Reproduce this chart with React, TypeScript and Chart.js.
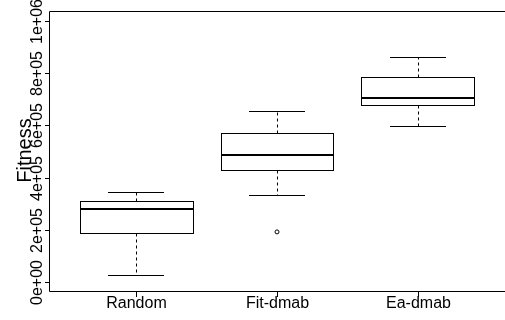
import React, { useEffect, useRef } from "react";
import { Chart, registerables } from "chart.js";

Chart.register(...registerables);

const categories = ["Random", "Fit-dmab", "Ea-dmab"];
const whiskerLow = [24000, 333000, 598000];
const quartile1 = [188000, 427500, 677500];
const medians = [279500, 485000, 705500];
const quartile3 = [309000, 570000, 786000];
const whiskerHigh = [346000, 655500, 862000];
const outlierGroup = [2];
const outlierValue = [191000];
const yTickValues = [0, 200000, 400000, 600000, 800000, 1000000];
const yTickLabels = ["0e+00", "2e+05", "4e+05", "6e+05", "8e+05", "1e+06"];
const yTitle = "Fitness";

const FONT = '"Liberation Sans", Arial, Helvetica, sans-serif';

const boxPlugin = {
  id: "rbox",
  afterDatasetsDraw(chart: any) {
    const { ctx } = chart;
    const xs = chart.scales.x;
    const ys = chart.scales.y;
    ctx.save();
    ctx.strokeStyle = "#000";
    ctx.fillStyle = "#000";
    categories.forEach((_, i) => {
      const cx = Math.round(xs.getPixelForValue(i + 1)) + 0.5;
      const capL = Math.round(xs.getPixelForValue(i + 1 - 0.2));
      const capR = Math.round(xs.getPixelForValue(i + 1 + 0.2));
      const boxL = Math.round(xs.getPixelForValue(i + 1 - 0.4)) + 0.5;
      const boxR = Math.round(xs.getPixelForValue(i + 1 + 0.4)) + 0.5;
      const yLo = Math.round(ys.getPixelForValue(whiskerLow[i])) + 0.5;
      const yHi = Math.round(ys.getPixelForValue(whiskerHigh[i])) + 0.5;
      const yQ1 = Math.round(ys.getPixelForValue(quartile1[i])) + 0.5;
      const yQ3 = Math.round(ys.getPixelForValue(quartile3[i])) + 0.5;
      const yMed = Math.round(ys.getPixelForValue(medians[i]));
      ctx.lineWidth = 1;
      ctx.strokeRect(boxL, yQ3, boxR - boxL, yQ1 - yQ3);
      ctx.setLineDash([3, 3]);
      ctx.beginPath();
      ctx.moveTo(cx, yQ3);
      ctx.lineTo(cx, yHi);
      ctx.moveTo(cx, yQ1);
      ctx.lineTo(cx, yLo);
      ctx.stroke();
      ctx.setLineDash([]);
      ctx.beginPath();
      ctx.moveTo(capL, yHi);
      ctx.lineTo(capR, yHi);
      ctx.moveTo(capL, yLo);
      ctx.lineTo(capR, yLo);
      ctx.stroke();
      ctx.lineWidth = 2;
      ctx.beginPath();
      ctx.moveTo(boxL, yMed);
      ctx.lineTo(boxR, yMed);
      ctx.stroke();
    });
    ctx.restore();
  },
  afterDraw(chart: any) {
    const { ctx, chartArea: a } = chart;
    const xs = chart.scales.x;
    const ys = chart.scales.y;
    ctx.save();
    ctx.strokeStyle = "#000";
    ctx.fillStyle = "#000";
    ctx.lineWidth = 1;
    ctx.beginPath();
    ctx.moveTo(a.right, a.top + 0.5);
    ctx.lineTo(a.left + 0.5, a.top + 0.5);
    ctx.lineTo(a.left + 0.5, a.bottom - 0.5);
    ctx.lineTo(a.right, a.bottom - 0.5);
    ctx.stroke();
    ctx.font = `16px ${FONT}`;
    yTickValues.forEach((v, i) => {
      const y = Math.round(ys.getPixelForValue(v)) + 0.5;
      ctx.beginPath();
      ctx.moveTo(a.left - 4, y);
      ctx.lineTo(a.left + 0.5, y);
      ctx.stroke();
      ctx.save();
      ctx.translate(42, y);
      ctx.rotate(-Math.PI / 2);
      ctx.textAlign = "center";
      ctx.textBaseline = "alphabetic";
      ctx.fillText(yTickLabels[i], 0, 0);
      ctx.restore();
    });
    categories.forEach((c, i) => {
      const x = Math.round(xs.getPixelForValue(i + 1)) + 0.5;
      ctx.beginPath();
      ctx.moveTo(x, a.bottom - 0.5);
      ctx.lineTo(x, a.bottom + 5);
      ctx.stroke();
      ctx.textAlign = "center";
      ctx.textBaseline = "alphabetic";
      ctx.fillText(c, x, 308);
    });
    ctx.save();
    ctx.font = `20px ${FONT}`;
    ctx.translate(31, (a.top + a.bottom) / 2 - 1);
    ctx.rotate(-Math.PI / 2);
    ctx.textAlign = "center";
    ctx.textBaseline = "alphabetic";
    ctx.fillText(yTitle, 0, 0);
    ctx.restore();
    ctx.restore();
  },
};

export default function App() {
  const ref = useRef<HTMLCanvasElement>(null);
  useEffect(() => {
    if (!ref.current) return;
    const chart = new Chart(ref.current, {
      type: "bar",
      data: {
        datasets: [
          {
            type: "bar",
            data: categories.map((_, i) => ({ x: i + 1, y: [quartile1[i], quartile3[i]] })) as any,
            backgroundColor: "#ffffff",
            borderColor: "#000000",
            borderWidth: 0,
            borderSkipped: false,
            categoryPercentage: 1,
            barPercentage: 0.8,
          } as any,
          {
            type: "scatter",
            data: outlierGroup.map((g, i) => ({ x: g, y: outlierValue[i] })),
            pointRadius: 2,
            pointBackgroundColor: "#ffffff",
            pointBorderColor: "#000000",
            pointBorderWidth: 1,
          } as any,
        ],
      },
      options: {
        responsive: false,
        animation: false,
        layout: { autoPadding: false, padding: { left: 49, top: 11, right: 0, bottom: 28 } },
        plugins: { legend: { display: false }, tooltip: { enabled: false } },
        scales: {
          x: { type: "linear", offset: false, min: 0.38, max: 3.62, display: false },
          y: { type: "linear", min: -40000, max: 1040000, display: false },
        },
      },
      plugins: [boxPlugin],
    });
    return () => chart.destroy();
  }, []);
  return (
    <div style={{ position: "fixed", left: 0, top: 0, width: 505, height: 320, background: "#fff" }}>
      <canvas ref={ref} width={505} height={320} style={{ display: "block" }} />
    </div>
  );
}
